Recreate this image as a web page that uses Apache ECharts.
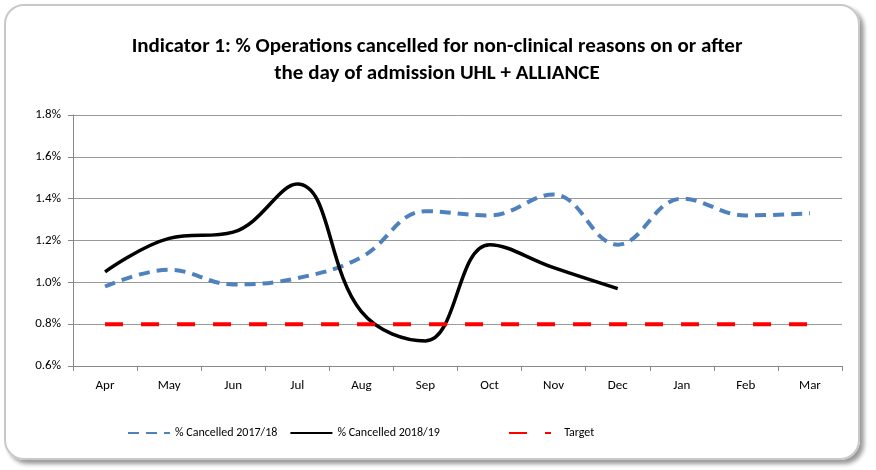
<!DOCTYPE html>
<html>
<head>
<meta charset="utf-8">
<script src="https://cdn.jsdelivr.net/npm/echarts@6/dist/echarts.min.js"></script>
<style>
  body { margin: 0; background: #fff; }
  #frame {
    position: absolute; left: 4px; top: 4px; width: 852px; height: 452px;
    border: 2px solid #c8c8c8; border-radius: 20px;
    box-shadow: 4px 4px 4px #9a9a9a;
  }
  #main { position: absolute; left: 0; top: 0; width: 876px; height: 470px; }
</style>
</head>
<body>
<div id="frame"></div>
<div id="main"></div>
<script>
// months of the financial year
const months = ["Apr", "May", "Jun", "Jul", "Aug", "Sep", "Oct", "Nov", "Dec", "Jan", "Feb", "Mar"];
// % cancelled
const cancelled1718 = [0.98, 1.06, 0.99, 1.02, 1.12, 1.34, 1.32, 1.42, 1.18, 1.40, 1.32, 1.33];
const cancelled1819 = [1.05, 1.21, 1.24, 1.47, 0.86, 0.72, 1.18, 1.07, 0.97];
const target = [0.8, 0.8, 0.8, 0.8, 0.8, 0.8, 0.8, 0.8, 0.8, 0.8, 0.8, 0.8];
const yTicks = { min: 0.6, max: 1.8, step: 0.2 };

const font = 'Carlito, "Liberation Sans Narrow", "Liberation Sans", Arial, sans-serif';

// shared legend look
const legendBase = {
  bottom: 26, itemWidth: 42, itemHeight: 6,
  itemStyle: { opacity: 0 },
  textStyle: { fontFamily: font, fontSize: 12, color: "#000" }
};

const chart = echarts.init(document.getElementById("main"));
chart.setOption({
  animation: false,
  backgroundColor: "transparent",
  title: {
    text: "Indicator 1: % Operations cancelled for non-clinical reasons on or after\nthe day of admission UHL + ALLIANCE",
    left: 432, top: 28, textAlign: "center",
    textStyle: { fontFamily: font, fontSize: 21, fontWeight: "bold", color: "#000", lineHeight: 27 }
  },
  grid: { left: 73, right: 34, top: 115, bottom: 104, containLabel: false },
  legend: [
    Object.assign({}, legendBase, {
      left: 122, itemGap: 12,
      data: ["% Cancelled 2017/18", "% Cancelled 2018/19"]
    }),
    Object.assign({}, legendBase, {
      left: 503, data: ["Target"],
      formatter: name => "   " + name
    })
  ],
  xAxis: {
    type: "category", data: months, boundaryGap: true,
    axisLine: { lineStyle: { color: "#888", width: 1 } },
    axisTick: { show: true, length: 5, lineStyle: { color: "#888" } },
    axisLabel: { fontFamily: font, fontSize: 13, color: "#000", margin: 13 }
  },
  yAxis: {
    type: "value", min: yTicks.min, max: yTicks.max, interval: yTicks.step,
    axisLine: { show: true, lineStyle: { color: "#888" } },
    axisTick: { show: true, length: 5, lineStyle: { color: "#888" } },
    axisLabel: { fontFamily: font, fontSize: 13, color: "#000", margin: 12,
      formatter: v => v.toFixed(1) + "%" },
    splitLine: { lineStyle: { color: "#999", width: 1 } }
  },
  series: [
    {
      name: "% Cancelled 2017/18", type: "line", data: cancelled1718, smooth: 0.4,
      symbol: "none", color: "#4f81bd",
      lineStyle: { color: "#4f81bd", width: 4, type: [11, 7] }
    },
    {
      name: "% Cancelled 2018/19", type: "line", data: cancelled1819, smooth: 0.4,
      symbol: "none", color: "#000",
      lineStyle: { color: "#000", width: 3.5 }
    },
    {
      name: "Target", type: "line", data: target,
      symbol: "none", color: "#ff0000",
      lineStyle: { color: "#ff0000", width: 4, type: [18, 18] }
    }
  ]
});
</script>
</body>
</html>
